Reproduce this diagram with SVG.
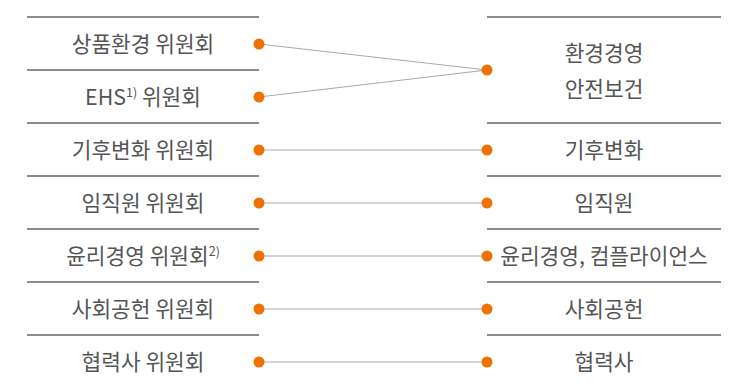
<svg xmlns="http://www.w3.org/2000/svg" width="737" height="384" viewBox="0 0 737 384">
<style>
.t{font-family:"Noto Sans CJK KR","Noto Sans",sans-serif;font-size:21.4px;fill:#555;text-anchor:middle}
.s{font-size:12.5px}
.rule{stroke:#666;stroke-width:1.3}
.c{stroke:#aaa;stroke-width:1.2;fill:none}
.d{fill:#ef7100}
</style>
<rect width="737" height="384" fill="#fff"/>
<g id="rules">
<line class="rule" x1="27" y1="17" x2="259" y2="17"/>
<line class="rule" x1="27" y1="70" x2="259" y2="70"/>
<line class="rule" x1="27" y1="123" x2="259" y2="123"/>
<line class="rule" x1="27" y1="176" x2="259" y2="176"/>
<line class="rule" x1="27" y1="229" x2="259" y2="229"/>
<line class="rule" x1="27" y1="282" x2="259" y2="282"/>
<line class="rule" x1="27" y1="335" x2="259" y2="335"/>
<line class="rule" x1="487" y1="17" x2="721" y2="17"/>
<line class="rule" x1="487" y1="123" x2="721" y2="123"/>
<line class="rule" x1="487" y1="176" x2="721" y2="176"/>
<line class="rule" x1="487" y1="229" x2="721" y2="229"/>
<line class="rule" x1="487" y1="282" x2="721" y2="282"/>
<line class="rule" x1="487" y1="335" x2="721" y2="335"/>
</g>
<g id="connectors">
<line class="c" x1="259" y1="44" x2="487" y2="70"/>
<line class="c" x1="259" y1="97" x2="487" y2="70"/>
<line class="c" x1="259" y1="150" x2="487" y2="150"/>
<line class="c" x1="259" y1="203" x2="487" y2="203"/>
<line class="c" x1="259" y1="256" x2="487" y2="256"/>
<line class="c" x1="259" y1="309" x2="487" y2="309"/>
<line class="c" x1="259" y1="362" x2="487" y2="362"/>
</g>
<g id="l1"><text class="t" x="143" y="52">상품환경 위원회</text><circle class="d" cx="259" cy="44" r="5.5"/></g>
<g id="l2"><text class="t" x="143" y="105">EHS<tspan class="s" dy="-8">1)</tspan><tspan dy="8"> 위원회</tspan></text><circle class="d" cx="259" cy="97" r="5.5"/></g>
<g id="l3"><text class="t" x="143" y="158">기후변화 위원회</text><circle class="d" cx="259" cy="150" r="5.5"/></g>
<g id="l4"><text class="t" x="143" y="211">임직원 위원회</text><circle class="d" cx="259" cy="203" r="5.5"/></g>
<g id="l5"><text class="t" x="143" y="264">윤리경영 위원회<tspan class="s" dy="-8">2)</tspan></text><circle class="d" cx="259" cy="256" r="5.5"/></g>
<g id="l6"><text class="t" x="143" y="317">사회공헌 위원회</text><circle class="d" cx="259" cy="309" r="5.5"/></g>
<g id="l7"><text class="t" x="143" y="370">협력사 위원회</text><circle class="d" cx="259" cy="362" r="5.5"/></g>
<g id="r1"><text class="t" x="604" y="61">환경경영</text><text class="t" x="604" y="97">안전보건</text><circle class="d" cx="487" cy="70" r="5.5"/></g>
<g id="r2"><text class="t" x="604" y="158">기후변화</text><circle class="d" cx="487" cy="150" r="5.5"/></g>
<g id="r3"><text class="t" x="604" y="211">임직원</text><circle class="d" cx="487" cy="203" r="5.5"/></g>
<g id="r4"><text class="t" x="604" y="264">윤리경영, 컴플라이언스</text><circle class="d" cx="487" cy="256" r="5.5"/></g>
<g id="r5"><text class="t" x="604" y="317">사회공헌</text><circle class="d" cx="487" cy="309" r="5.5"/></g>
<g id="r6"><text class="t" x="604" y="370">협력사</text><circle class="d" cx="487" cy="362" r="5.5"/></g>
</svg>
